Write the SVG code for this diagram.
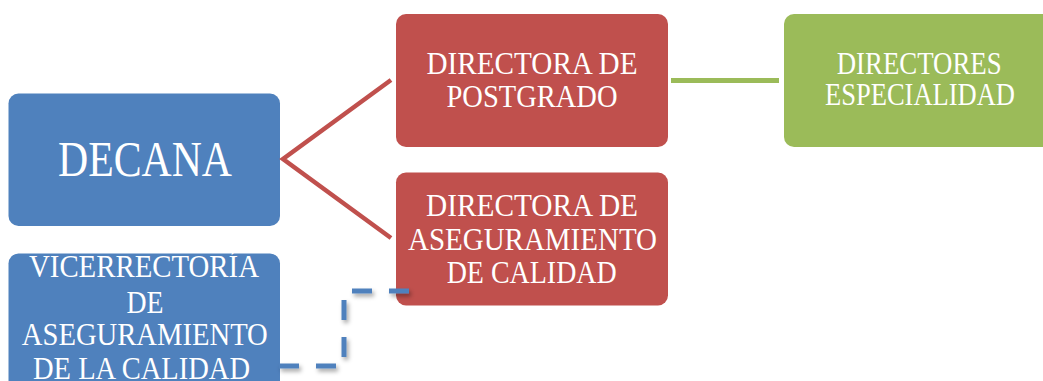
<svg xmlns="http://www.w3.org/2000/svg" width="1043" height="381" viewBox="0 0 1043 381">
<style>
.blue{fill:#4F81BD}
.red{fill:#C0504D}
.green{fill:#9BBB59}
.t{font-family:"Liberation Serif","Times New Roman",serif;fill:#FFFFFF;text-anchor:middle}
.ln{fill:none;stroke-linecap:butt;stroke-linejoin:miter}
</style>
<defs>
<filter id="sh" x="-20%" y="-20%" width="140%" height="140%">
<feDropShadow dx="2" dy="3" stdDeviation="2" flood-color="#000000" flood-opacity="0.35"/>
</filter>
</defs>
<rect width="1043" height="381" fill="#FFFFFF"/>
<g id="decana">
<rect class="blue" x="8.5" y="93.5" width="271.5" height="132.5" rx="10"/>
<text class="t" x="145" y="176" font-size="50" textLength="174" lengthAdjust="spacingAndGlyphs">DECANA</text>
</g>
<g id="directora-postgrado">
<rect class="red" x="396" y="14" width="272" height="133" rx="10"/>
<text class="t" font-size="32.5"><tspan x="532" y="74.3" textLength="211" lengthAdjust="spacingAndGlyphs">DIRECTORA DE</tspan><tspan x="532" y="107.3" textLength="171" lengthAdjust="spacingAndGlyphs">POSTGRADO</tspan></text>
</g>
<g id="directora-aseguramiento">
<rect class="red" x="396" y="172.5" width="272" height="133" rx="10"/>
<text class="t" font-size="32.5"><tspan x="532" y="216" textLength="212" lengthAdjust="spacingAndGlyphs">DIRECTORA DE</tspan><tspan x="532.5" y="250" textLength="249" lengthAdjust="spacingAndGlyphs">ASEGURAMIENTO</tspan><tspan x="531.7" y="283.3" textLength="170" lengthAdjust="spacingAndGlyphs">DE CALIDAD</tspan></text>
</g>
<g id="directores-especialidad">
<rect class="green" x="784" y="14" width="272" height="133" rx="10"/>
<text class="t" font-size="31"><tspan x="919.2" y="74" textLength="165" lengthAdjust="spacingAndGlyphs">DIRECTORES</tspan><tspan x="920" y="105" textLength="190" lengthAdjust="spacingAndGlyphs">ESPECIALIDAD</tspan></text>
</g>
<g id="vicerrectoria">
<rect class="blue" x="8.5" y="253.5" width="271.5" height="140" rx="10"/>
<text class="t" font-size="31"><tspan x="144" y="277" textLength="230" lengthAdjust="spacingAndGlyphs">VICERRECTORÍA</tspan><tspan x="145" y="312.5" textLength="37" lengthAdjust="spacingAndGlyphs">DE</tspan><tspan x="144.8" y="345" textLength="246" lengthAdjust="spacingAndGlyphs">ASEGURAMIENTO</tspan><tspan x="141.5" y="378.5" textLength="217" lengthAdjust="spacingAndGlyphs">DE LA CALIDAD</tspan></text>
</g>
<g id="connectors">
<polyline class="ln" points="391,80 283,159 391,238" stroke="#C0504D" stroke-width="4.5"/>
<line class="ln" x1="671" y1="80.5" x2="779" y2="80.5" stroke="#9BBB59" stroke-width="5"/>
<path class="ln" d="M409,291 H344 V366 H278" stroke="#4F81BD" stroke-width="5" stroke-dasharray="20 17" filter="url(#sh)"/>
</g>
</svg>
